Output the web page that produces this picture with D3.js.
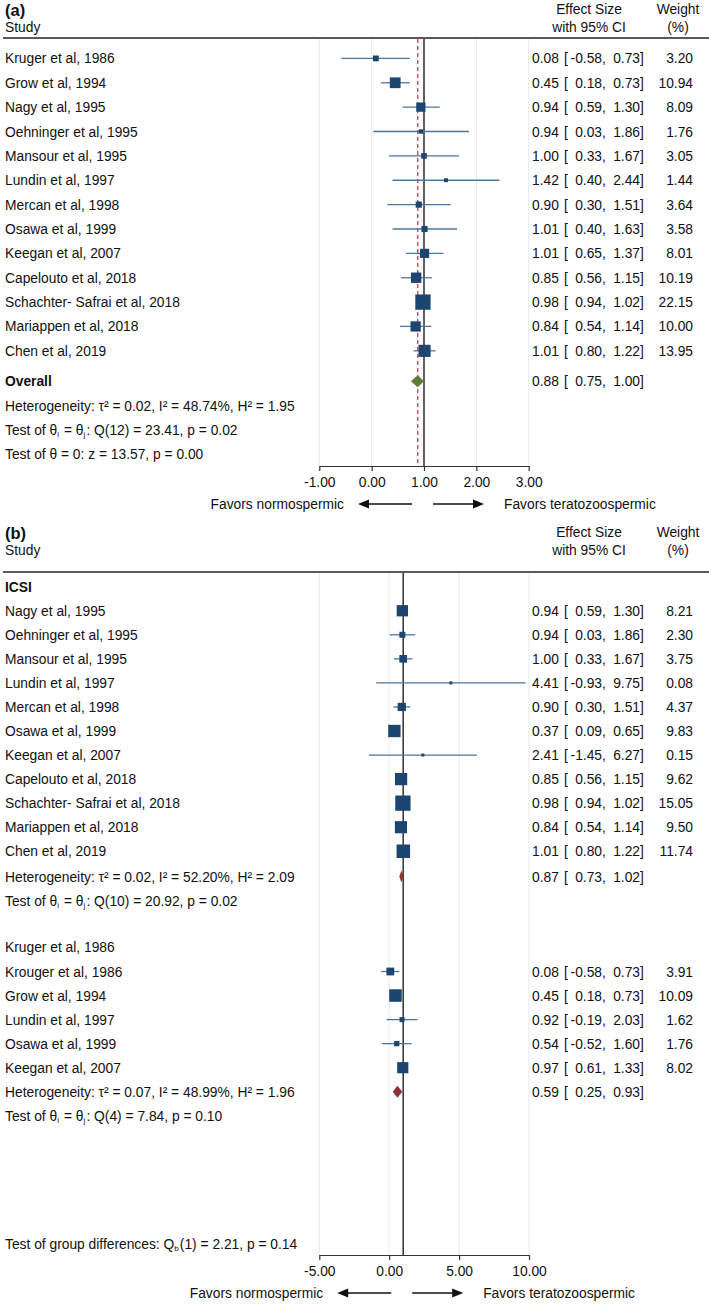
<!DOCTYPE html>
<html><head><meta charset="utf-8">
<script src="https://cdn.jsdelivr.net/npm/d3@7"></script>
<style>
body{margin:0;background:#fff}
text{font-family:"Liberation Sans",Arial,Helvetica,sans-serif;fill:#111}
</style>
</head><body>
<svg id="chart" width="709" height="1305"></svg>
<script>
// ---------- Panel (a) data ----------
const studiesA = ["Kruger et al, 1986","Grow et al, 1994","Nagy et al, 1995","Oehninger et al, 1995","Mansour et al, 1995","Lundin et al, 1997","Mercan et al, 1998","Osawa et al, 1999","Keegan et al, 2007","Capelouto et al, 2018","Schachter- Safrai et al, 2018","Mariappen et al, 2018","Chen et al, 2019"];
const esA = [0.08,0.45,0.94,0.94,1.00,1.42,0.90,1.01,1.01,0.85,0.98,0.84,1.01];
const loA = [-0.58,0.18,0.59,0.03,0.33,0.40,0.30,0.40,0.65,0.56,0.94,0.54,0.80];
const hiA = [0.73,0.73,1.30,1.86,1.67,2.44,1.51,1.63,1.37,1.15,1.02,1.14,1.22];
const wA  = [3.20,10.94,8.09,1.76,3.05,1.44,3.64,3.58,8.01,10.19,22.15,10.00,13.95];
const overallA = [0.88,0.75,1.00];
const ticksA = [-1,0,1,2,3];

// ---------- Panel (b) data ----------
const studiesB1 = ["Nagy et al, 1995","Oehninger et al, 1995","Mansour et al, 1995","Lundin et al, 1997","Mercan et al, 1998","Osawa et al, 1999","Keegan et al, 2007","Capelouto et al, 2018","Schachter- Safrai et al, 2018","Mariappen et al, 2018","Chen et al, 2019"];
const esB1 = [0.94,0.94,1.00,4.41,0.90,0.37,2.41,0.85,0.98,0.84,1.01];
const loB1 = [0.59,0.03,0.33,-0.93,0.30,0.09,-1.45,0.56,0.94,0.54,0.80];
const hiB1 = [1.30,1.86,1.67,9.75,1.51,0.65,6.27,1.15,1.02,1.14,1.22];
const wB1  = [8.21,2.30,3.75,0.08,4.37,9.83,0.15,9.62,15.05,9.50,11.74];
const subB1 = [0.87,0.73,1.02];

const studiesB2 = ["Krouger et al, 1986","Grow et al, 1994","Lundin et al, 1997","Osawa et al, 1999","Keegan et al, 2007"];
const esB2 = [0.08,0.45,0.92,0.54,0.97];
const loB2 = [-0.58,0.18,-0.19,-0.52,0.61];
const hiB2 = [0.73,0.73,2.03,1.60,1.33];
const wB2  = [3.91,10.09,1.62,1.76,8.02];
const subB2 = [0.59,0.25,0.93];
const ticksB = [-5,0,5,10];

const groupLabels = ["ICSI","Kruger et al, 1986"];

// ---------- style ----------
const FS = 13.8;
const C_BOX = "#1c4670", C_CI = "#4d76a2", C_GRID = "#e3ebf1";
const C_GREEN = "#5b7c34", C_RED = "#8f3035", C_DASH = "#e0445e";

const svg = d3.select("#chart");
const f2 = v => v.toFixed(2);

function rich(g, x, y, parts, opts={}) {
  const t = g.append("text").attr("x", x).attr("y", y)
    .attr("dominant-baseline","central").style("font-size", (opts.size||FS)+"px");
  if (opts.bold) t.style("font-weight","bold");
  if (opts.anchor) t.attr("text-anchor", opts.anchor);
  parts.forEach(p => {
    if (typeof p === "string") t.append("tspan").text(p);
    else {
      t.append("tspan").attr("dy", 4).style("font-size","8px").text(p.sub);
      t.append("tspan").attr("dy", -4).text("\u200A");
    }
  });
  return t;
}

function header(g, tag, yTop, lineY) {
  rich(g, 5, yTop, [tag], {bold:true, size:16.5});
  rich(g, 5, yTop+17, ["Study"]);
  rich(g, 589, yTop-1, ["Effect Size"], {anchor:"middle"});
  rich(g, 589, yTop+17, ["with 95% CI"], {anchor:"middle"});
  rich(g, 678, yTop-1, ["Weight"], {anchor:"middle"});
  rich(g, 678, yTop+17, ["(%)"], {anchor:"middle"});
  g.append("line").attr("x1",3).attr("x2",709).attr("y1",lineY).attr("y2",lineY)
    .attr("stroke","#5a5a5a").attr("stroke-width",2);
}

function estText(g, y, es, lo, hi, w) {
  rich(g, 532, y, [f2(es)]);
  rich(g, 564, y, ["["]);
  rich(g, 602, y, [f2(lo)], {anchor:"end"});
  rich(g, 602, y, [","]);
  rich(g, 640, y, [f2(hi)], {anchor:"end"});
  rich(g, 640, y, ["]"]);
  if (w != null) rich(g, 693, y, [f2(w)], {anchor:"end"});
}

function studies(g, x, row, idx0, names, es, lo, hi, w, maxW) {
  names.forEach((n,i) => {
    const y = row(idx0+i);
    rich(g, 5, y, [n]);
    g.append("line").attr("x1", x(lo[i])).attr("x2", x(hi[i])).attr("y1", y).attr("y2", y)
      .attr("stroke", C_CI).attr("stroke-width", 1.3);
    const s = Math.max(3, 15.3*Math.sqrt(w[i]/maxW));
    g.append("rect").attr("x", x(es[i])-s/2).attr("y", y-s/2).attr("width", s).attr("height", s)
      .attr("fill", C_BOX);
    estText(g, y, es[i], lo[i], hi[i], w[i]);
  });
}

function diamond(g, x, y, vals, color) {
  const h = 6;
  g.append("path").attr("d", `M${x(vals[1])},${y} L${x(vals[0])},${y-h} L${x(vals[2])},${y} L${x(vals[0])},${y+h} Z`)
    .attr("fill", color);
  estText(g, y, vals[0], vals[1], vals[2], null);
}

function axisAndFrame(g, x, ticks, yTop, yAxis) {
  ticks.forEach(t => {
    g.append("line").attr("x1", x(t)).attr("x2", x(t)).attr("y1", yTop).attr("y2", yAxis)
      .attr("stroke", C_GRID).attr("stroke-width", 1);
  });
  const ax = g.append("g").attr("transform", `translate(0,${yAxis})`)
    .call(d3.axisBottom(x).tickValues(ticks).tickFormat(f2).tickSize(5).tickSizeOuter(0));
  ax.select(".domain").attr("stroke","#333").attr("stroke-width",1.2);
  ax.selectAll(".tick line").attr("stroke","#333").attr("stroke-width",1.2);
  ax.selectAll(".tick text").attr("dy", null).attr("y", 16).attr("dominant-baseline","central")
    .style("font-size", FS+"px").style("font-family",'"Liberation Sans",Arial,sans-serif').attr("fill","#111");
  // favours row
  const null1 = x(1), yf = yAxis + 38;
  rich(g, null1-80, yf, ["Favors normospermic"], {anchor:"end"});
  rich(g, null1+80, yf, ["Favors teratozoospermic"]);
  const arrow = (xa, xb) => {
    const dir = Math.sign(xb - xa);
    g.append("line").attr("x1", xa).attr("x2", xb - dir*9).attr("y1", yf).attr("y2", yf)
      .attr("stroke","#111").attr("stroke-width",1.3);
    g.append("path").attr("d", `M${xb},${yf} L${xb-dir*11},${yf-4.5} L${xb-dir*11},${yf+4.5} Z`).attr("fill","#111");
  };
  arrow(null1-12, null1-66);
  arrow(null1+9, null1+60);
}

// ================= Panel (a) =================
const gA = svg.append("g");
const xA = d3.scaleLinear().domain([-1,3]).range([319.3,528.7]);
const rowA = d3.scaleLinear().domain([0,1]).range([58.4,82.77]);
const topA = 39, axisA = 466;
header(gA, "(a)", 10, 38);
axisAndFrame(gA, xA, ticksA, topA, axisA);
gA.append("line").attr("x1", xA(overallA[0])).attr("x2", xA(overallA[0])).attr("y1", topA).attr("y2", axisA)
  .attr("stroke", C_DASH).attr("stroke-width", 1.4).attr("stroke-dasharray","4,3");
gA.append("line").attr("x1", xA(1)).attr("x2", xA(1)).attr("y1", topA).attr("y2", axisA)
  .attr("stroke", "#222").attr("stroke-width", 1.4);
studies(gA, xA, rowA, 0, studiesA, esA, loA, hiA, wA, d3.max(wA));
rich(gA, 5, rowA(13.25), ["Overall"], {bold:true});
diamond(gA, xA, rowA(13.25), overallA, C_GREEN);
rich(gA, 5, rowA(14.25), ["Heterogeneity: \u03C4\u00B2 = 0.02, I\u00B2 = 48.74%, H\u00B2 = 1.95"]);
rich(gA, 5, rowA(15.25), ["Test of \u03B8", {sub:"i"}, " = \u03B8", {sub:"j"}, ": Q(12) = 23.41, p = 0.02"]);
rich(gA, 5, rowA(16.25), ["Test of \u03B8 = 0: z = 13.57, p = 0.00"]);

// ================= Panel (b) =================
const gB = svg.append("g");
const xB = d3.scaleLinear().domain([-5,10]).range([319.3,529]);
const rowB = d3.scaleLinear().domain([0,1]).range([586.7,610.75]);
const topB = 573, axisB = 1255;
header(gB, "(b)", 533, 572);
axisAndFrame(gB, xB, ticksB, topB, axisB);
gB.append("line").attr("x1", xB(1)).attr("x2", xB(1)).attr("y1", topB).attr("y2", axisB)
  .attr("stroke", "#222").attr("stroke-width", 1.4);
const maxB = d3.max(wB1.concat(wB2));
rich(gB, 5, rowB(0), [groupLabels[0]], {bold:true});
studies(gB, xB, rowB, 1, studiesB1, esB1, loB1, hiB1, wB1, maxB);
rich(gB, 5, rowB(12.05), ["Heterogeneity: \u03C4\u00B2 = 0.02, I\u00B2 = 52.20%, H\u00B2 = 2.09"]);
diamond(gB, xB, rowB(12.05), subB1, C_RED);
rich(gB, 5, rowB(13.05), ["Test of \u03B8", {sub:"i"}, " = \u03B8", {sub:"j"}, ": Q(10) = 20.92, p = 0.02"]);
rich(gB, 5, rowB(15), [groupLabels[1]]);
studies(gB, xB, rowB, 16, studiesB2, esB2, loB2, hiB2, wB2, maxB);
rich(gB, 5, rowB(21), ["Heterogeneity: \u03C4\u00B2 = 0.07, I\u00B2 = 48.99%, H\u00B2 = 1.96"]);
diamond(gB, xB, rowB(21), subB2, C_RED);
rich(gB, 5, rowB(22), ["Test of \u03B8", {sub:"i"}, " = \u03B8", {sub:"j"}, ": Q(4) = 7.84, p = 0.10"]);
rich(gB, 5, rowB(27.33), ["Test of group differences: Q", {sub:"b"}, "(1) = 2.21, p = 0.14"]);
</script>
</body></html>
